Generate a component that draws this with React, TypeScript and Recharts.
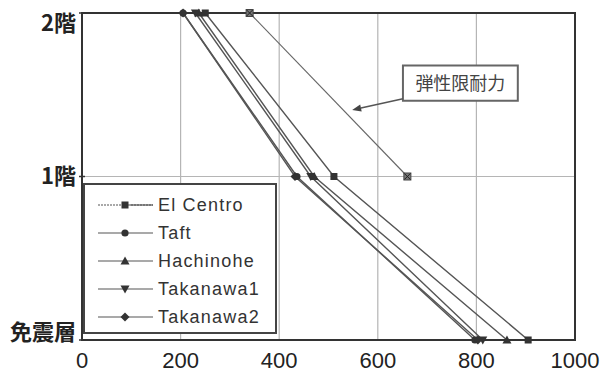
import React from 'react';
import {
  LineChart,
  Line,
  XAxis,
  YAxis,
  CartesianGrid,
  ReferenceLine,
  ReferenceArea,
  Legend,
} from 'recharts';

// Floors (2 = 2階, 1 = 1階, 0 = 免震層)
const levels = [2, 1, 0];
const levelLabels: Record<number, string> = { 2: '2階', 1: '1階', 0: '免震層' };

const elCentro = [250, 511, 905];
const taft = [205, 436, 797];
const hachinohe = [237, 471, 862];
const takanawa1 = [230, 464, 813];
const takanawa2 = [205, 432, 803];
const elasticLimit = [340, 660, null];

const xTicks = [0, 200, 400, 600, 800, 1000];
const yTicks = [0, 1, 2];

const annotationText = '弾性限耐力';
const annotationBox = { x1: 651, x2: 884, y1: 1.463, y2: 1.679 };
const annotationArrow = [
  { x: 651, y: 1.475 },
  { x: 548, y: 1.407 },
];

const seriesNames = ['El Centro', 'Taft', 'Hachinohe', 'Takanawa1', 'Takanawa2'];
const seriesKeys = ['elCentro', 'taft', 'hachinohe', 'takanawa1', 'takanawa2'];
const markerKinds = ['square', 'circle', 'triangle', 'triangleDown', 'diamond'];

const data = levels.map((lv, i) => ({
  level: lv,
  elCentro: elCentro[i],
  taft: taft[i],
  hachinohe: hachinohe[i],
  takanawa1: takanawa1[i],
  takanawa2: takanawa2[i],
  elastic: elasticLimit[i],
}));

const LINE = '#555';
const MARK = '#333';

function Marker({ kind, cx, cy }: { kind: string; cx: number; cy: number }) {
  if (cx == null || cy == null || isNaN(cx) || isNaN(cy)) return null;
  switch (kind) {
    case 'square':
      return <rect x={cx - 3.5} y={cy - 3.5} width={7} height={7} fill={MARK} />;
    case 'circle':
      return <circle cx={cx} cy={cy} r={3.6} fill={MARK} />;
    case 'triangle':
      return <polygon points={`${cx},${cy - 4.5} ${cx - 4.5},${cy + 3.5} ${cx + 4.5},${cy + 3.5}`} fill={MARK} />;
    case 'triangleDown':
      return <polygon points={`${cx},${cy + 4.5} ${cx - 4.5},${cy - 3.5} ${cx + 4.5},${cy - 3.5}`} fill={MARK} />;
    case 'diamond':
      return <polygon points={`${cx},${cy - 4.5} ${cx + 4.5},${cy} ${cx},${cy + 4.5} ${cx - 4.5},${cy}`} fill={MARK} />;
    case 'xsquare':
      return (
        <g>
          <rect x={cx - 3.5} y={cy - 3.5} width={7} height={7} fill="#777" stroke="#444" strokeWidth={1} />
          <line x1={cx - 3} y1={cy - 3} x2={cx + 3} y2={cy + 3} stroke="#222" strokeWidth={1} />
          <line x1={cx - 3} y1={cy + 3} x2={cx + 3} y2={cy - 3} stroke="#222" strokeWidth={1} />
        </g>
      );
    default:
      return null;
  }
}

const makeDot = (kind: string) => (props: any) => (
  <g key={`${kind}-${props.index}`}>
    <Marker kind={kind} cx={props.cx} cy={props.cy} />
  </g>
);

const YTick = (props: any) => {
  const { x, y, payload } = props;
  const v = payload.value;
  const dy = v === 2 ? 8 : v === 0 ? -10 : -3;
  return (
    <g>
      <line x1={x - 3} x2={x + 3} y1={y} y2={y} stroke="#333" strokeWidth={1.5} />
      <text
        x={x - 6}
        y={y + dy}
        textAnchor="end"
        dominantBaseline="central"
        fontFamily="'Noto Sans CJK JP', sans-serif"
        fontWeight={700}
        fontSize={22}
        fill="#222"
      >
        {levelLabels[v]}
      </text>
    </g>
  );
};

const XTick = (props: any) => {
  const { x, y, payload } = props;
  return (
    <text
      x={x}
      y={y + 28}
      textAnchor="middle"
      fontFamily="'Liberation Sans', Arial, sans-serif"
      fontSize={22}
      fill="#222"
    >
      {payload.value}
    </text>
  );
};

const LegendContent = () => (
  <div
    style={{
      width: 194,
      height: 151,
      boxSizing: 'border-box',
      border: '2px solid #444',
      background: '#fff',
    }}
  >
    <svg width={190} height={147}>
      {seriesNames.map((name, i) => {
        const cy = 20 + i * 28;
        return (
          <g key={name}>
            <line x1={13} x2={68} y1={cy} y2={cy} stroke={LINE} strokeWidth={1.2} strokeDasharray={i === 0 ? '2 1' : undefined} />
            {i === 0 && <line x1={45} x2={68} y1={cy} y2={cy} stroke={LINE} strokeWidth={1.2} />}
            <Marker kind={markerKinds[i]} cx={40} cy={cy} />
            <text
              x={73}
              y={cy}
              dominantBaseline="central"
              fontFamily="'Liberation Sans', Arial, sans-serif"
              fontSize={18}
              letterSpacing={1.2}
              fill="#333"
            >
              {name}
            </text>
          </g>
        );
      })}
    </svg>
  </div>
);

const ArrowShape = (props: any) => {
  const { x1, y1, x2, y2 } = props;
  if ([x1, y1, x2, y2].some((v) => v == null || isNaN(v))) return null;
  const ang = Math.atan2(y2 - y1, x2 - x1);
  const L = 9;
  const W = 3.5;
  const bx = x2 - L * Math.cos(ang);
  const by = y2 - L * Math.sin(ang);
  const px = -Math.sin(ang) * W;
  const py = Math.cos(ang) * W;
  return (
    <g>
      <line x1={x1} y1={y1} x2={bx} y2={by} stroke="#555" strokeWidth={1.5} />
      <polygon points={`${x2},${y2} ${bx + px},${by + py} ${bx - px},${by - py}`} fill="#444" />
    </g>
  );
};

export default function App() {
  return (
    <div style={{ position: 'fixed', left: 0, top: 0, width: 604, height: 373, background: '#fff' }}>
      <LineChart
        width={604}
        height={373}
        data={data}
        layout="vertical"
        margin={{ top: 13, right: 29, bottom: 0, left: 0 }}
      >
        <CartesianGrid stroke="#b5b5b5" strokeWidth={1.2} />
        <XAxis
          type="number"
          domain={[0, 1000]}
          ticks={xTicks}
          height={33}
          tickSize={0}
          tickMargin={0}
          axisLine={false}
          tickLine={false}
          tick={<XTick />}
          interval={0}
        />
        <YAxis
          type="number"
          dataKey="level"
          domain={[0, 2]}
          ticks={yTicks}
          reversed
          width={82}
          tickSize={0}
          tickMargin={0}
          axisLine={false}
          tickLine={false}
          tick={<YTick />}
          interval={0}
        />
        <ReferenceArea x1={0} x2={1000} y1={0} y2={2} fill="none" stroke="#333" strokeWidth={2} ifOverflow="visible" />
        <Line
          dataKey="elastic"
          stroke="#666"
          strokeWidth={1.1}
          dot={makeDot('xsquare')}
          legendType="none"
          isAnimationActive={false}
          connectNulls={false}
        />
        {seriesKeys.map((k, i) => (
          <Line
            key={k}
            dataKey={k}
            name={seriesNames[i]}
            stroke={LINE}
            strokeWidth={1.4}
            dot={makeDot(markerKinds[i])}
            isAnimationActive={false}
          />
        ))}
        <ReferenceArea
          x1={annotationBox.x1}
          x2={annotationBox.x2}
          y1={annotationBox.y1}
          y2={annotationBox.y2}
          fill="#fff"
          fillOpacity={1}
          stroke="#666"
          strokeWidth={2}
          label={{
            value: annotationText,
            position: 'center',
            fill: '#444',
            fontSize: 18,
            fontFamily: "'Noto Sans CJK JP', sans-serif",
          }}
        />
        <ReferenceLine segment={annotationArrow} shape={<ArrowShape />} />
        <Legend
          layout="vertical"
          align="center"
          verticalAlign="middle"
          wrapperStyle={{ position: 'absolute', left: 83, top: 183, width: 194, height: 151 }}
          content={<LegendContent />}
        />
      </LineChart>
    </div>
  );
}
